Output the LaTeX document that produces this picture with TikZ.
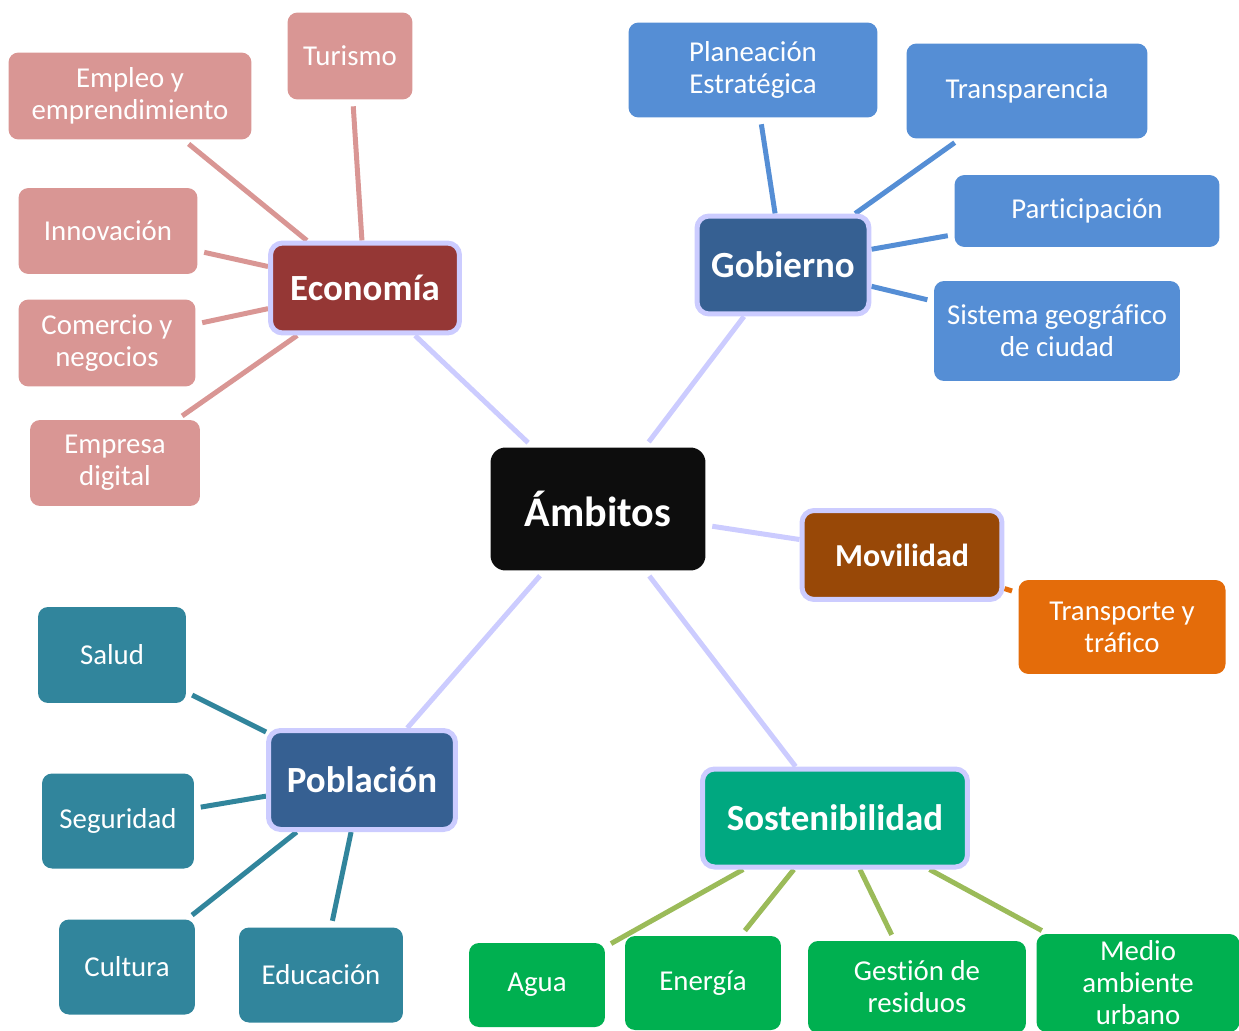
\documentclass[tikz,border=0pt]{standalone}
\usepackage{fontspec}
\setmainfont{Carlito}[Ligatures=CommonOff]
\usetikzlibrary{positioning,backgrounds}

\definecolor{lav}{RGB}{204,204,255}
\definecolor{ambblack}{RGB}{13,13,13}
\definecolor{ecored}{RGB}{149,55,53}
\definecolor{ecopink}{RGB}{217,150,148}
\definecolor{govblue}{RGB}{54,96,146}
\definecolor{govlight}{RGB}{85,142,213}
\definecolor{movbrown}{RGB}{152,72,7}
\definecolor{movorange}{RGB}{228,108,10}
\definecolor{pobteal}{RGB}{49,133,156}
\definecolor{sosgreen}{RGB}{0,168,128}
\definecolor{sosleaf}{RGB}{0,176,80}
\definecolor{sosline}{RGB}{155,187,89}

\begin{document}
\begin{tikzpicture}[x=0.02cm,y=-0.02cm,
	hub/.style={rounded corners=0.24cm,draw=lav,line width=0.1cm,text=white,inner sep=0pt,
		font=\fontsize{21}{24}\selectfont\bfseries},
	leaf/.style={rounded corners=0.2cm,text=white,align=center,inner sep=0pt,
		font=\fontsize{16.4}{18.2}\selectfont},
	link/.style={line width=0.1cm,shorten >=0.13cm}
	]
	\useasboundingbox (0,0) rectangle (1239,1030);

	% centre
	\node[rounded corners=0.3cm,fill=ambblack,text=white,inner sep=0pt,minimum width=4.3cm,minimum height=2.46cm,
		font=\fontsize{24}{28}\selectfont\bfseries] (amb) at (598,509) {Ámbitos};

	% economia
	\node[hub,fill=ecored,minimum width=3.78cm,minimum height=1.8cm] (eco) at (365,288) {Economía};
	\node[leaf,fill=ecopink,minimum width=2.5cm,minimum height=1.74cm] (tur) at (350,56) {Turismo};
	\node[leaf,fill=ecopink,minimum width=4.86cm,minimum height=1.74cm] (emp) at (130,96) {Empleo y\\emprendimiento};
	\node[leaf,fill=ecopink,minimum width=3.58cm,minimum height=1.72cm] (inn) at (108,231) {Innovación};
	\node[leaf,fill=ecopink,minimum width=3.54cm,minimum height=1.74cm] (com) at (107,343) {Comercio y\\negocios};
	\node[leaf,fill=ecopink,minimum width=3.4cm,minimum height=1.72cm] (dig) at (115,463) {Empresa\\digital};

	% gobierno
	\node[hub,fill=govblue,minimum width=3.44cm,minimum height=1.96cm] (gob) at (783,265) {Gobierno};
	\node[leaf,fill=govlight,minimum width=4.98cm,minimum height=1.9cm] (pla) at (753,70) {Planeación\\Estratégica};
	\node[leaf,fill=govlight,minimum width=4.82cm,minimum height=1.9cm] (tra) at (1027,91) {Transparencia};
	\node[leaf,fill=govlight,minimum width=5.3cm,minimum height=1.44cm] (par) at (1087,211) {Participación};
	\node[leaf,fill=govlight,minimum width=4.92cm,minimum height=2cm] (sig) at (1057,331) {Sistema geográfico\\de ciudad};

	% movilidad
	\node[hub,fill=movbrown,minimum width=4cm,minimum height=1.78cm,font=\fontsize{18.2}{21}\selectfont\bfseries] (mov) at (902,555) {Movilidad};
	\node[leaf,fill=movorange,minimum width=4.14cm,minimum height=1.88cm] (tyt) at (1122,627) {Transporte y\\tráfico};

	% poblacion
	\node[hub,fill=govblue,minimum width=3.74cm,minimum height=1.98cm] (pob) at (362,780) {Población};
	\node[leaf,fill=pobteal,minimum width=2.96cm,minimum height=1.92cm] (sal) at (112,655) {Salud};
	\node[leaf,fill=pobteal,minimum width=3.04cm,minimum height=1.9cm] (seg) at (118,821) {Seguridad};
	\node[leaf,fill=pobteal,minimum width=2.72cm,minimum height=1.9cm] (cul) at (127,967) {Cultura};
	\node[leaf,fill=pobteal,minimum width=3.28cm,minimum height=1.9cm] (edu) at (321,975) {Educación};

	% sostenibilidad
	\node[hub,fill=sosgreen,minimum width=5.3cm,minimum height=1.96cm] (sos) at (835,818) {Sostenibilidad};
	\node[leaf,fill=sosleaf,minimum width=2.72cm,minimum height=1.68cm] (agu) at (537,985) {Agua};
	\node[leaf,fill=sosleaf,minimum width=3.12cm,minimum height=1.88cm] (ene) at (703,983) {Energía};
	\node[leaf,fill=sosleaf,minimum width=4.36cm,minimum height=1.84cm] (res) at (917,987) {Gestión de\\residuos};
	\node[leaf,fill=sosleaf,minimum width=4.06cm,minimum height=1.96cm] (med) at (1138,983) {Medio\\ambiente\\urbano};

	\begin{scope}[on background layer]
		\foreach \h in {eco,gob,mov,pob,sos}
			\draw[link,lav] (\h) -- (amb);
		\foreach \n in {tur,emp,inn,com,dig}
			\draw[link,ecopink] (eco) -- (\n);
		\foreach \n in {pla,tra,par,sig}
			\draw[link,govlight] (gob) -- (\n);
		\draw[link,movorange] (mov) -- (tyt);
		\foreach \n in {sal,seg,cul,edu}
			\draw[link,pobteal] (pob) -- (\n);
		\foreach \n in {agu,ene,res,med}
			\draw[link,sosline] (sos) -- (\n);
	\end{scope}

\end{tikzpicture}
\end{document}
